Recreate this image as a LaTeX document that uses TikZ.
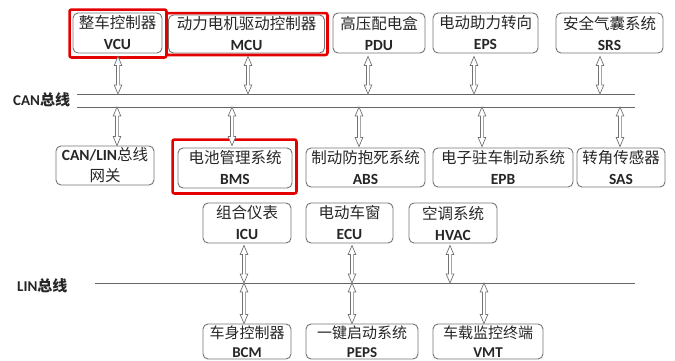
\documentclass[tikz,border=0pt]{standalone}
\usepackage{fontspec}
\setmainfont{Noto Sans CJK SC}
\newfontfamily\lat{Carlito}
\usetikzlibrary{calc}
\tikzset{
 box/.style={draw=black!55, rounded corners=5pt, line width=0.9pt, inner sep=0pt, align=center,
   font=\fontsize{15.5}{21}\selectfont, text=black!85},
 redbox/.style={draw=red!90!black, line width=2.6pt, rounded corners=2pt},
 bus/.style={draw=black!60, line width=0.8pt},
 arr/.style={draw=black!55, line width=0.7pt, fill=white, line join=miter},
 lbl/.style={font=\fontsize{15}{17}\selectfont\bfseries, anchor=west, inner sep=0pt, text=black!85}
}
\newcommand\ab[1]{{\lat\bfseries #1}}
% #1 gives x, #2 gives top y, #3 gives bottom y
\newcommand\hdarrow[3]{\draw[arr] let \p1=#1, \p2=#2, \p3=#3 in
 (\x1,\y2) -- (\x1-3.8pt,\y2-9pt) -- (\x1-1.6pt,\y2-9pt) -- (\x1-1.6pt,\y3+9pt) -- (\x1-3.8pt,\y3+9pt)
 -- (\x1,\y3) -- (\x1+3.8pt,\y3+9pt) -- (\x1+1.6pt,\y3+9pt) -- (\x1+1.6pt,\y2-9pt) -- (\x1+3.8pt,\y2-9pt) -- cycle;}
\begin{document}
\begin{tikzpicture}[x=1pt,y=-1pt]
\useasboundingbox (0,0) rectangle (675,360);
% buses
\coordinate (canU0) at (77,94);  \coordinate (canU1) at (635,94);
\coordinate (canL0) at (77,107); \coordinate (canL1) at (635,107);
\coordinate (lin0) at (95,283);  \coordinate (lin1) at (635,283);
\draw[bus] (canU0) -- (canU1);
\draw[bus] (canL0) -- (canL1);
\draw[bus] (lin0) -- (lin1);
\node[lbl] (canlbl) at (13,100) {\ab{CAN}总线};
\node[lbl] (linlbl) at (17,286) {\ab{LIN}总线};
% row 1
\node[box, minimum width=89pt, minimum height=40pt] (vcu) at (117.5,33) {整车控制器\\\ab{VCU}};
\node[box, minimum width=156pt, minimum height=38pt] (mcu) at (246.5,34) {动力电机驱动控制器\\\ab{MCU}};
\node[box, minimum width=92pt, minimum height=40pt] (pdu) at (379,33) {高压配电盒\\\ab{PDU}};
\node[box, minimum width=105pt, minimum height=40pt] (eps) at (485.5,33) {电动助力转向\\\ab{EPS}};
\node[box, minimum width=107pt, minimum height=40pt] (srs) at (609.5,33) {安全气囊系统\\\ab{SRS}};
% row 2
\node[box, minimum width=98pt, minimum height=39pt] (canlin) at (105,165.5) {\ab{CAN/LIN}总线\\网关};
\node[box, minimum width=114pt, minimum height=40pt] (bms) at (235,168) {电池管理系统\\\ab{BMS}};
\node[box, minimum width=119pt, minimum height=39pt] (abs) at (365.5,167.5) {制动防抱死系统\\\ab{ABS}};
\node[box, minimum width=140pt, minimum height=39pt] (epb) at (503,167.5) {电子驻车制动系统\\\ab{EPB}};
\node[box, minimum width=88pt, minimum height=39pt] (sas) at (621,167.5) {转角传感器\\\ab{SAS}};
% row 3
\node[box, minimum width=88pt, minimum height=40pt] (icu) at (247,223) {组合仪表\\\ab{ICU}};
\node[box, minimum width=87pt, minimum height=40pt] (ecu) at (349.5,223) {电动车窗\\\ab{ECU}};
\node[box, minimum width=88pt, minimum height=40pt] (hvac) at (453,223) {空调系统\\\ab{HVAC}};
% row 4
\tikzset{lowbox/.style={box, font=\fontsize{15}{18.5}\selectfont, minimum height=35pt}}
\node[lowbox, minimum width=88pt] (bcm) at (247,341.5) {车身控制器\\\ab{BCM}};
\node[lowbox, minimum width=112pt] (peps) at (362,341.5) {一键启动系统\\\ab{PEPS}};
\node[lowbox, minimum width=110pt] (vmt) at (488,341.5) {车载监控终端\\\ab{VMT}};
% red highlights
\draw[redbox] ($(vcu.north west)+(-3,-3)$) rectangle ($(vcu.south east)+(4,4)$);
\draw[redbox] ($(mcu.north west)+(-1.5,-1.5)$) rectangle ($(mcu.south east)+(2.5,1.5)$);
\draw[redbox] ($(bms.north west)+(-5,-8)$) rectangle ($(bms.south east)+(4,5)$);
% arrows: top row to CAN upper line
\hdarrow{($(vcu.south)+(0.5,0)$)}{($(vcu.south)+(0,3)$)}{(canU0)}
\hdarrow{($(mcu.south)+(1.5,0)$)}{($(mcu.south)+(0,3)$)}{(canU0)}
\hdarrow{($(pdu.south)+(-11,0)$)}{($(pdu.south)+(0,3)$)}{(canU0)}
\hdarrow{($(eps.south)+(-11.5,0)$)}{($(eps.south)+(0,3)$)}{(canU0)}
\hdarrow{($(srs.south)+(-9.5,0)$)}{($(srs.south)+(0,3)$)}{(canU0)}
% arrows: CAN lower line to row 2
\hdarrow{($(canlin.north)+(12,0)$)}{(canL0)}{(canlin.north)}
\hdarrow{($(bms.north)+(-3,0)$)}{(canL0)}{($(bms.north)+(0,-2)$)}
\hdarrow{($(abs.north)+(-6.5,0)$)}{(canL0)}{($(abs.north)+(0,-1)$)}
\hdarrow{($(epb.north)+(-21,0)$)}{(canL0)}{($(epb.north)+(0,-1)$)}
\hdarrow{($(sas.north)+(-1,0)$)}{(canL0)}{($(sas.north)+(0,-1)$)}
% arrows: row 3 to LIN
\hdarrow{($(icu.south)+(-3,0)$)}{($(icu.south)+(0,2)$)}{(lin0)}
\hdarrow{($(ecu.south)+(2.5,0)$)}{($(ecu.south)+(0,2)$)}{(lin0)}
\hdarrow{($(hvac.south)+(-3,0)$)}{($(hvac.south)+(0,2)$)}{(lin0)}
% arrows: LIN to row 4
\hdarrow{($(bcm.north)+(-3,0)$)}{(lin0)}{(bcm.north)}
\hdarrow{($(peps.north)+(-10,0)$)}{(lin0)}{(peps.north)}
\hdarrow{($(vmt.north)+(-4,0)$)}{(lin0)}{(vmt.north)}
\end{tikzpicture}
\end{document}
